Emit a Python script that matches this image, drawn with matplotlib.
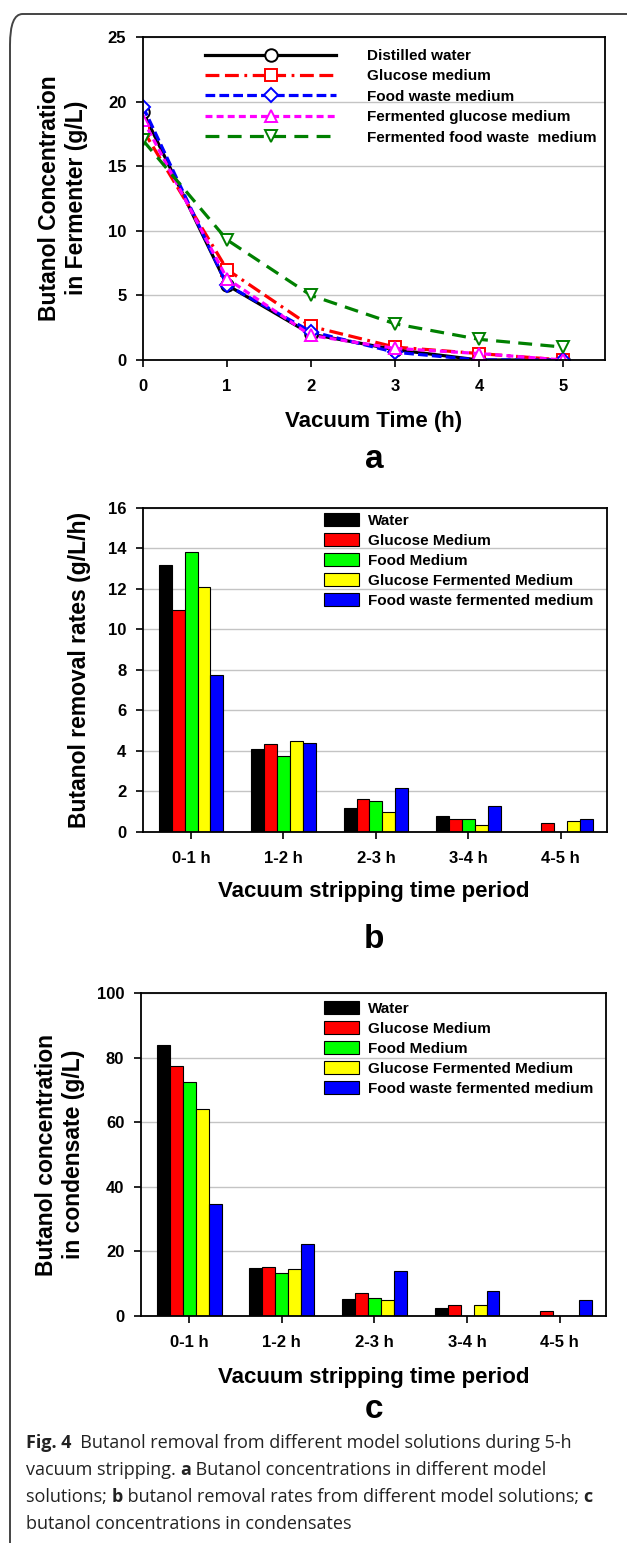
import matplotlib
matplotlib.use("Agg")
import matplotlib.pyplot as plt
from matplotlib.patches import FancyBboxPatch
import numpy as np

# Panel a : concentration in fermenter
hours = [0, 1, 2, 3, 4, 5]
distilled_water = [19.2, 5.8, 2.0, 0.8, 0.0, 0.0]
glucose_medium = [17.8, 7.0, 2.6, 1.0, 0.5, 0.0]
food_waste_medium = [19.6, 5.8, 2.2, 0.6, 0.0, 0.0]
ferm_glucose_medium = [18.6, 6.3, 1.9, 0.9, 0.5, 0.0]
ferm_food_waste_medium = [17.0, 9.3, 5.0, 2.8, 1.6, 1.0]

# Panels b and c : per time period
periods = ["0-1 h", "1-2 h", "2-3 h", "3-4 h", "4-5 h"]
bar_names = ["Water", "Glucose Medium", "Food Medium",
             "Glucose Fermented Medium", "Food waste fermented medium"]
bar_colors = ["#000000", "#ff0000", "#00ff00", "#ffff00", "#0000ff"]

rate_water = [13.2, 4.1, 1.19, 0.81, 0.0]
rate_glucose = [10.97, 4.37, 1.65, 0.64, 0.45]
rate_food = [13.83, 3.75, 1.53, 0.64, 0.0]
rate_glucose_ferm = [12.08, 4.49, 0.99, 0.36, 0.56]
rate_food_ferm = [7.76, 4.39, 2.18, 1.27, 0.66]

cond_water = [83.9, 15.0, 5.3, 2.6, 0.0]
cond_glucose = [77.5, 15.1, 7.1, 3.3, 1.7]
cond_food = [72.4, 13.4, 5.5, 0.0, 0.0]
cond_glucose_ferm = [64.2, 14.4, 5.1, 3.5, 0.0]
cond_food_ferm = [34.8, 22.4, 13.9, 7.6, 5.0]

W, H = 627, 1543
plt.rcParams["font.family"] = ["Liberation Sans", "DejaVu Sans"]
plt.rcParams["font.weight"] = "bold"
plt.rcParams["lines.scale_dashes"] = False

fig = plt.figure(figsize=(W / 100, H / 100), dpi=100)


def box(l, t, r, b):
    # pixel box -> figure fraction
    return [l / W, 1 - b / H, (r - l) / W, (b - t) / H]


def style_axes(ax):
    for s in ax.spines.values():
        s.set_linewidth(1.3)
    ax.tick_params(direction="out", length=5, width=1.2, labelsize=12)
    for lab in ax.get_xticklabels() + ax.get_yticklabels():
        lab.set_fontweight("bold")
    ax.set_axisbelow(True)
    ax.yaxis.grid(True, color="#c4c4c4", linewidth=1.0)


# outer frame (only left and top edges visible)
frame = FancyBboxPatch((10 / W, -0.1), 1.2, 1 - 14 / H + 0.1,
                       boxstyle="round,pad=0,rounding_size=0.02",
                       transform=fig.transFigure, fill=False,
                       edgecolor="#444444", linewidth=1.4)
fig.patches.append(frame)

# ---------------- panel a ----------------
ax1 = fig.add_axes(box(143, 37, 605, 360))
series = [
    (distilled_water, "Distilled water", "black", "o", "-"),
    (glucose_medium, "Glucose medium", "red", "s", (0, (10, 4, 10, 4, 2, 4))),
    (food_waste_medium, "Food waste medium", "blue", "D", (0, (7, 3))),
    (ferm_glucose_medium, "Fermented glucose medium", "magenta", "^", (0, (5, 3))),
    (ferm_food_waste_medium, "Fermented food waste  medium", "green", "v", (0, (10, 6))),
]
for vals, name, col, mk, ls in series:
    ax1.plot(hours, vals, color=col, linestyle=ls, linewidth=2.3,
             marker=mk, markersize=9 if mk != "D" else 7.5,
             markerfacecolor="white", markeredgecolor=col,
             markeredgewidth=1.4, label=name)
ax1.set_xlim(0, 5.5)
ax1.set_ylim(0, 25)
ax1.set_xticks(hours)
ax1.set_yticks(np.arange(0, 26, 5))
style_axes(ax1)
ax1.tick_params(axis="x", pad=9)
ax1.tick_params(axis="y", pad=7)
ax1.legend(loc="upper left", bbox_to_anchor=(205 / W, 1 - 49 / H),
           bbox_transform=fig.transFigure, frameon=False, fontsize=11,
           handlelength=8.6, handletextpad=2.0, labelspacing=0.42,
           borderpad=0, borderaxespad=0)

fig.text(63 / W, 1 - 198 / H, "Butanol Concentration\nin Fermenter (g/L)",
         rotation=90, ha="center", va="center", fontsize=16.5,
         fontweight="bold", linespacing=1.2)
fig.text(374 / W, 1 - 422 / H, "Vacuum Time (h)", ha="center", va="center",
         fontsize=16, fontweight="bold")
fig.text(374 / W, 1 - 460 / H, "a", ha="center", va="center",
         fontsize=24, fontweight="bold")


# ---------------- bar panels ----------------
def bar_panel(rect, data, ylim, ystep, ylabel, ylab_x, xlab_y, letter, letter_y, leg_top):
    ax = fig.add_axes(box(*rect))
    x = np.arange(len(periods))
    w = 0.14
    for i, (vals, name, col) in enumerate(zip(data, bar_names, bar_colors)):
        ax.bar(x + (i - 2) * w, vals, width=w, color=col, edgecolor="black",
               linewidth=0.8, label=name)
    ax.set_xlim(-0.52, 4.5)
    ax.set_ylim(0, ylim)
    ax.set_yticks(np.arange(0, ylim + 1, ystep))
    ax.set_xticks(x)
    ax.set_xticklabels(periods)
    style_axes(ax)
    ax.tick_params(axis="x", pad=9)
    ax.tick_params(axis="y", pad=7)
    ax.legend(loc="upper left", bbox_to_anchor=(324 / W, 1 - leg_top / H),
              bbox_transform=fig.transFigure, frameon=False, fontsize=11,
              handlelength=2.3, handleheight=0.9, handletextpad=0.6,
              labelspacing=0.36, borderpad=0, borderaxespad=0)
    cy = (rect[1] + rect[3]) / 2
    fig.text(ylab_x / W, 1 - cy / H, ylabel, rotation=90, ha="center",
             va="center", fontsize=16.5, fontweight="bold", linespacing=1.2)
    fig.text(374 / W, 1 - xlab_y / H, "Vacuum stripping time period",
             ha="center", va="center", fontsize=16, fontweight="bold")
    fig.text(374 / W, 1 - letter_y / H, letter, ha="center", va="center",
             fontsize=24, fontweight="bold")
    return ax


bar_panel((143, 508, 607, 832),
          [rate_water, rate_glucose, rate_food, rate_glucose_ferm, rate_food_ferm],
          16, 2, "Butanol removal rates (g/L/h)", 80, 892, "b", 940, 513)
bar_panel((141, 993, 606, 1316),
          [cond_water, cond_glucose, cond_food, cond_glucose_ferm, cond_food_ferm],
          100, 20, "Butanol concentration\nin condensate (g/L)", 60, 1377, "c", 1410, 1001)

# ---------------- caption ----------------
caption = [
    [("Fig. 4", True), ("  Butanol removal from different model solutions during 5-h", False)],
    [("vacuum stripping. ", False), ("a", True), (" Butanol concentrations in different model", False)],
    [("solutions; ", False), ("b", True), (" butanol removal rates from different model solutions; ", False), ("c", True)],
    [("butanol concentrations in condensates", False)],
]
baselines = [1448, 1475, 1502, 1529]
renderer = fig.canvas.get_renderer()
for parts, base in zip(caption, baselines):
    xpos = 26
    for txt, bold in parts:
        t = fig.text(xpos / W, 1 - base / H, txt, fontsize=13.0,
                     family=["Open Sans", "DejaVu Sans"],
                     fontweight="bold" if bold else "normal",
                     va="baseline", ha="left", color="#222222")
        xpos += t.get_window_extent(renderer).width

fig.savefig("out.png", dpi=100)
